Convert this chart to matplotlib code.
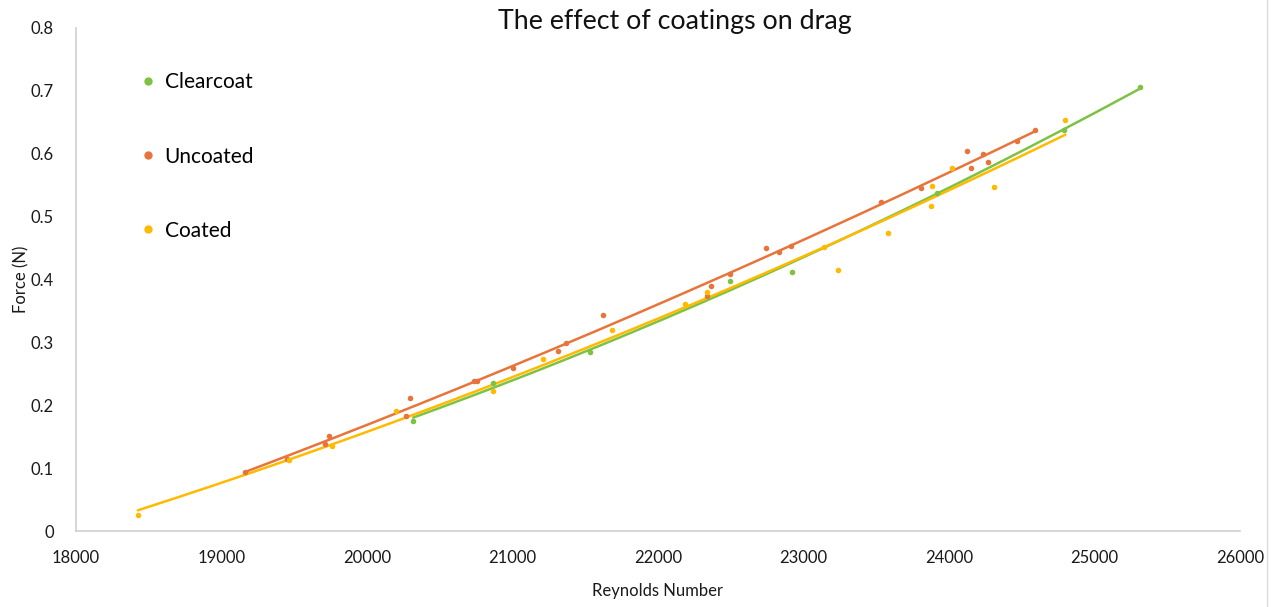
import matplotlib
matplotlib.use("Agg")
import matplotlib.pyplot as plt
import numpy as np
from matplotlib.lines import Line2D

# ---- data ----
clear_x = [20317, 20866, 21530, 22497, 22922, 23916, 24793, 25314]
clear_y = [0.175, 0.235, 0.285, 0.398, 0.412, 0.537, 0.638, 0.706]

unc_x = [19159, 19453, 19714, 19741, 20269, 20296, 20735, 20756, 21003, 21311,
         21366, 21619, 22339, 22367, 22497, 22744, 22833, 22915, 23532, 23806,
         24122, 24149, 24231, 24266, 24464, 24594]
unc_y = [0.094, 0.115, 0.138, 0.151, 0.183, 0.211, 0.239, 0.239, 0.259, 0.286,
         0.299, 0.344, 0.374, 0.390, 0.409, 0.450, 0.444, 0.453, 0.523, 0.546,
         0.604, 0.577, 0.600, 0.587, 0.620, 0.638]

coat_x = [18425, 19467, 19762, 20200, 20866, 21208, 21681, 22189, 22339, 23141,
          23237, 23580, 23875, 23882, 24019, 24307, 24800]
coat_y = [0.025, 0.113, 0.135, 0.191, 0.223, 0.274, 0.320, 0.361, 0.380, 0.452,
          0.415, 0.474, 0.517, 0.549, 0.577, 0.547, 0.654]

series_names = ["Clearcoat", "Uncoated", "Coated"]
x_ticks = [18000, 19000, 20000, 21000, 22000, 23000, 24000, 25000, 26000]
y_ticks = [0, 0.1, 0.2, 0.3, 0.4, 0.5, 0.6, 0.7, 0.8]
y_tick_labels = ["0", "0.1", "0.2", "0.3", "0.4", "0.5", "0.6", "0.7", "0.8"]

colors = ["#7DC242", "#E8743B", "#FFBA00"]

plt.rcParams['font.family'] = ['Lato', 'DejaVu Sans']

fig = plt.figure(figsize=(12.8, 6.07), dpi=100)
ax = fig.add_axes([76/1280, 76/607, (1240-76)/1280, (531-28)/607])

handles = []
for name, xs, ys, c in zip(series_names, [clear_x, unc_x, coat_x],
                           [clear_y, unc_y, coat_y], colors):
    xs = np.array(xs, float); ys = np.array(ys, float)
    ax.scatter(xs, ys, s=16, color=c, zorder=3, linewidths=0)
    p = np.polyfit(xs, ys, 2)
    xx = np.linspace(xs.min(), xs.max(), 200)
    ax.plot(xx, np.polyval(p, xx), color=c, lw=1.8, zorder=2,
            solid_capstyle='round')
    handles.append(Line2D([], [], marker='o', ls='none', color=c,
                          markersize=5, label=name))

ax.set_xlim(18000, 26000)
ax.set_ylim(0, 0.8)
ax.set_xticks(x_ticks)
ax.set_xticklabels([str(t) for t in x_ticks])
ax.set_yticks(y_ticks)
ax.set_yticklabels(y_tick_labels)
ax.tick_params(axis='both', length=0, labelsize=12, colors='#1a1a1a')
ax.tick_params(axis='x', pad=14)
ax.tick_params(axis='y', pad=16)
for s in ['top', 'right']:
    ax.spines[s].set_visible(False)
for s in ['left', 'bottom']:
    ax.spines[s].set_color('#d0d0d0')
    ax.spines[s].set_linewidth(1.2)

ax.set_xlabel("Reynolds Number", fontsize=12, labelpad=12, color='#1a1a1a')
ax.set_ylabel("Force (N)", fontsize=12, labelpad=1, color='#1a1a1a')
fig.text(675/1280, 1 - 22/607, "The effect of coatings on drag",
         ha='center', va='center', fontsize=19.3, color='#111111')

leg = ax.legend(handles=handles, loc='upper left',
                bbox_to_anchor=(127/1280, 1 - 62/607),
                bbox_transform=fig.transFigure, frameon=False,
                fontsize=15, labelspacing=2.6, handletextpad=0.3,
                handlelength=1.0, borderpad=0)

fig.add_artist(Line2D([1267/1280, 1267/1280], [0, 1], color='#dddddd',
                      lw=1, transform=fig.transFigure))

fig.savefig("out.png", dpi=100, facecolor='white')
